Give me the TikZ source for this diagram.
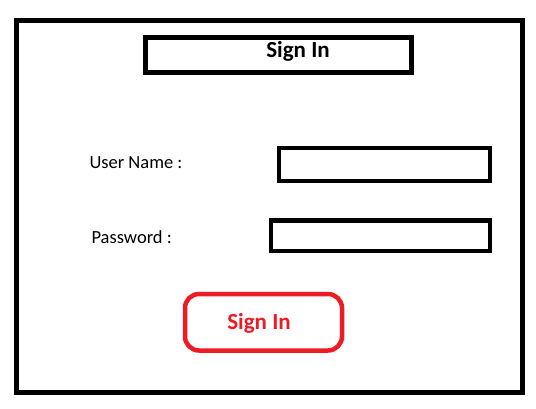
\documentclass[tikz,border=0pt]{standalone}
\usepackage{fontspec}
\setmainfont{Carlito}
\usepackage{tikz}
\definecolor{btnred}{RGB}{237,28,36}
\tikzset{
  frame/.style={line width=5pt},
  field/.style={line width=4.5pt},
  heading/.style={font=\fontsize{23}{27}\selectfont\bfseries},
  label/.style={font=\fontsize{18.5}{22}\selectfont, anchor=west}
}
\begin{document}
\begin{tikzpicture}[x=1pt,y=-1pt]
      \useasboundingbox (0,0) rectangle (536,408);
      \fill[white] (0,0) rectangle (536,408);
      \draw[frame] (16.5,20.5) rectangle (522,392.5);
      \draw[field] (145.5,37.5) rectangle (411.5,72.5);
      \node[heading] (title) at (298,51.5) {Sign In};
      \node[label] (user) at (86,163) {User Name :};
      \draw[field] (279,148) rectangle (490,181);
      \node[label] (pass) at (88,237.5) {Password :};
      \draw[field] (271,220.5) rectangle (490,251);
      \draw[field, btnred, rounded corners=14pt] (185,294) rectangle (342,350.5);
      \node[heading, text=btnred] (signin) at (259,323) {Sign In};
    \end{tikzpicture}
\end{document}
